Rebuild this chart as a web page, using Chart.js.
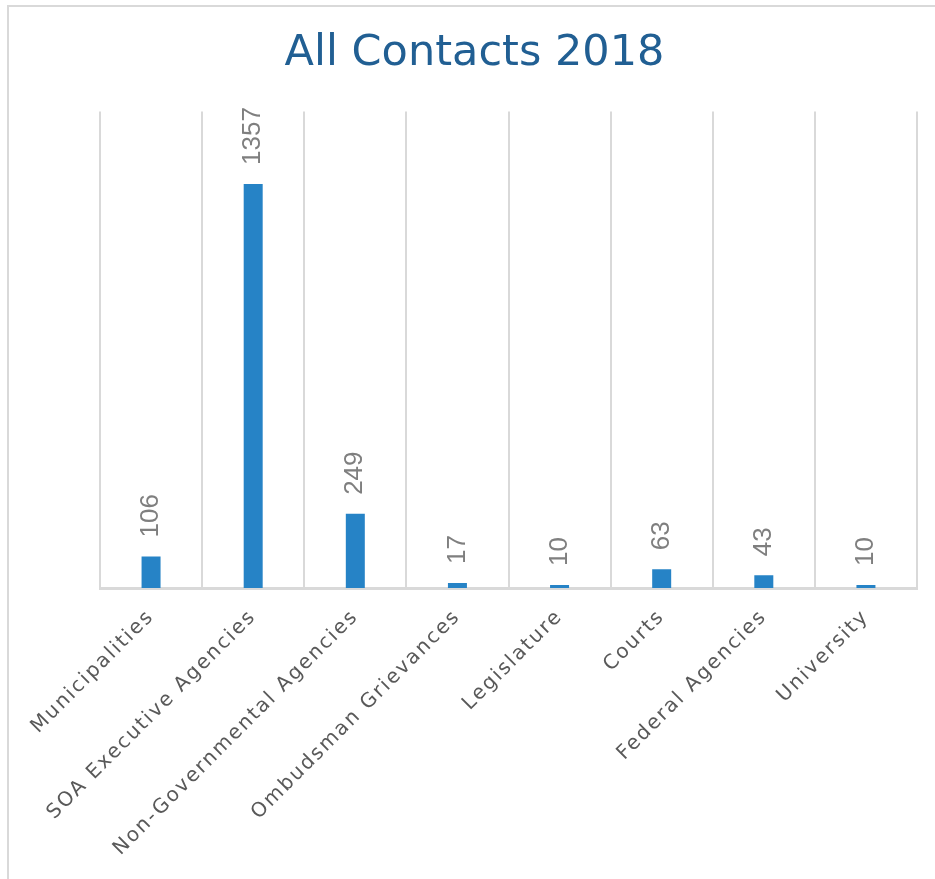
<!DOCTYPE html>
<html>
<head>
<meta charset="utf-8">
<script src="https://cdn.jsdelivr.net/npm/chart.js@4/dist/chart.umd.min.js"></script>
<style>
  html, body { margin: 0; padding: 0; background: #fff; overflow: hidden; }
  canvas { display: block; }
</style>
</head>
<body>
<canvas id="myChart" width="935" height="879"></canvas>
<script>
var categories = ["Municipalities", "SOA Executive Agencies", "Non-Governmental Agencies",
  "Ombudsman Grievances", "Legislature", "Courts", "Federal Agencies", "University"];
var contacts = [106, 1357, 249, 17, 10, 63, 43, 10];
var yMax = 1600;

// white background + the cropped frame line on the left and top
var frame = {
  id: "frame",
  beforeDraw: function (chart) {
    var ctx = chart.ctx;
    ctx.save();
    ctx.fillStyle = "#fff";
    ctx.fillRect(0, 0, chart.width, chart.height);
    ctx.strokeStyle = "#d9d9d9";
    ctx.lineWidth = 2;
    ctx.beginPath();
    ctx.moveTo(8, chart.height);
    ctx.lineTo(8, 6);
    ctx.lineTo(chart.width, 6);
    ctx.stroke();
    ctx.restore();
  }
};

// value labels above bars, rotated like the original
var barLabels = {
  id: "barLabels",
  afterDatasetsDraw: function (chart) {
    var ctx = chart.ctx;
    var meta = chart.getDatasetMeta(0);
    ctx.save();
    ctx.letterSpacing = "0px";
    ctx.fillStyle = "#7f7f7f";
    ctx.font = "26px 'Liberation Sans', Arial, sans-serif";
    ctx.textAlign = "left";
    ctx.textBaseline = "middle";
    meta.data.forEach(function (bar, i) {
      ctx.save();
      ctx.translate(bar.x, bar.y - 19);
      ctx.rotate(-Math.PI / 2);
      ctx.fillText(String(contacts[i]), 0, 0);
      ctx.restore();
    });
    ctx.restore();
  }
};

// a bit of letter spacing for the category labels
var spacedTicks = {
  id: "spacedTicks",
  beforeDraw: function (chart) {
    var s = chart.scales.x;
    if (s && !s._spaced) {
      var orig = s.drawLabels.bind(s);
      s.drawLabels = function (area) {
        chart.ctx.save();
        chart.ctx.letterSpacing = "2px";
        orig(area);
        chart.ctx.restore();
      };
      s._spaced = true;
    }
  }
};

var ctx = document.getElementById("myChart").getContext("2d");
var myChart = new Chart(ctx, {
  type: "bar",
  data: {
    labels: categories,
    datasets: [{
      label: "All Contacts 2018",
      data: contacts,
      backgroundColor: "#2683c6",
      borderWidth: 0,
      categoryPercentage: 1,
      barPercentage: 0.186
    }]
  },
  options: {
    responsive: false,
    animation: false,
    layout: { padding: { left: 32, right: 18, top: 6, bottom: 0 } },
    plugins: {
      legend: { display: false },
      tooltip: { enabled: false },
      title: {
        display: true,
        text: "All Contacts 2018",
        color: "#215f93",
        font: { family: "'DejaVu Sans', Verdana, sans-serif", size: 43, weight: "normal" },
        padding: { top: 22, bottom: 32 }
      }
    },
    scales: {
      x: {
        offset: true,
        grid: { display: true, offset: true, color: "#d9d9d9", lineWidth: 2, drawTicks: false },
        border: { display: true, color: "#d9d9d9", width: 3 },
        ticks: {
          color: "#595959",
          font: { family: "'DejaVu Sans', Verdana, sans-serif", size: 20 },
          maxRotation: 45,
          minRotation: 45,
          autoSkip: false,
          padding: 17
        },
        afterFit: function (scale) {
          scale.height = 291;
          scale.paddingLeft = 0;
          scale.paddingRight = 0;
        }
      },
      y: {
        min: 0,
        max: yMax,
        grid: { display: false },
        border: { display: false },
        ticks: { display: false },
        afterFit: function (scale) { scale.width = 68; }
      }
    }
  },
  plugins: [frame, barLabels, spacedTicks]
});
</script>
</body>
</html>
